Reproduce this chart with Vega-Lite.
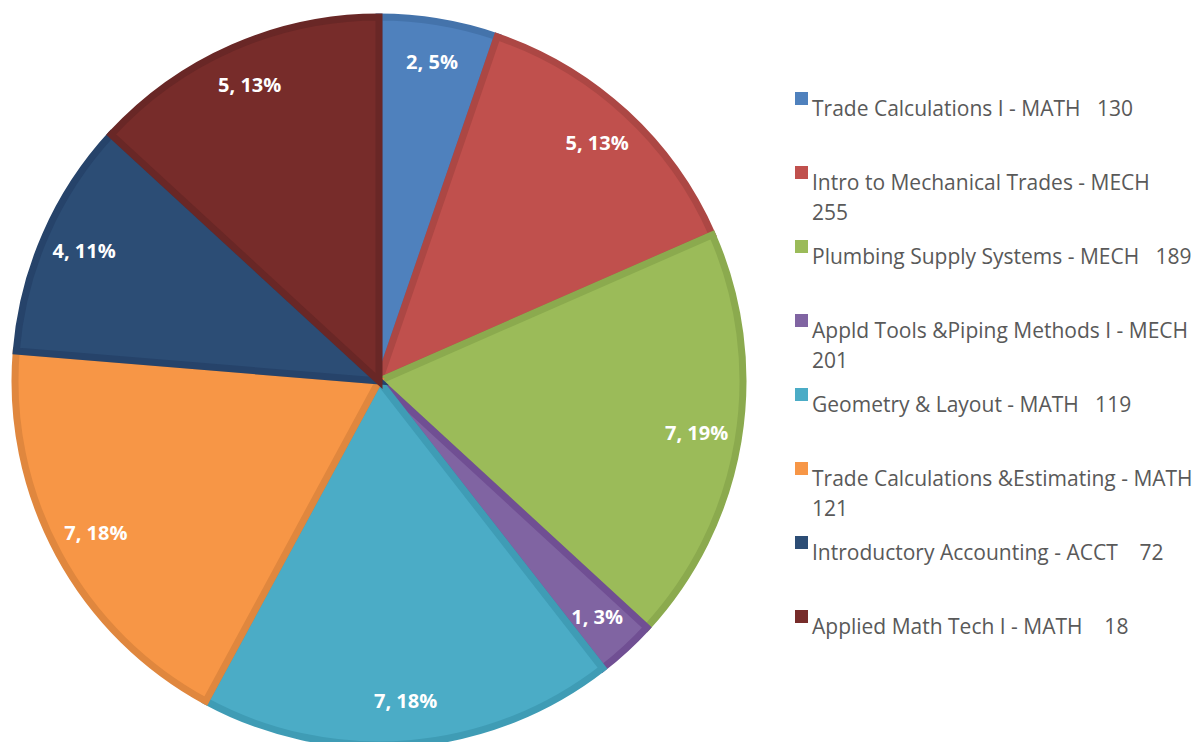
{
  "$schema": "https://vega.github.io/schema/vega-lite/v6.json",
  "width": 1202,
  "height": 742,
  "padding": 0,
  "autosize": {"type": "none"},
  "background": "white",
  "config": {"view": {"stroke": null}, "style": {"guide-label": {"lineHeight": 30}}},
  "data": {
    "values": [
      {"idx": 1, "course": "Trade Calculations I - MATH\u00a0\u00a0\u00a0130", "value": 2, "label": "2, 5%"},
      {"idx": 2, "course": "Intro to Mechanical Trades - MECH|255", "value": 5, "label": "5, 13%"},
      {"idx": 3, "course": "Plumbing Supply Systems - MECH\u00a0\u00a0\u00a0189", "value": 7, "label": "7, 19%"},
      {"idx": 4, "course": "Appld Tools &Piping Methods I - MECH|201", "value": 1, "label": "1, 3%"},
      {"idx": 5, "course": "Geometry & Layout - MATH\u00a0\u00a0\u00a0119", "value": 7, "label": "7, 18%"},
      {"idx": 6, "course": "Trade Calculations &Estimating - MATH|121", "value": 7, "label": "7, 18%"},
      {"idx": 7, "course": "Introductory Accounting - ACCT\u00a0\u00a0\u00a0\u00a072", "value": 4, "label": "4, 11%"},
      {"idx": 8, "course": "Applied Math Tech I - MATH\u00a0\u00a0\u00a0\u00a018", "value": 5, "label": "5, 13%"}
    ]
  },
  "encoding": {
    "theta": {"field": "value", "type": "quantitative", "stack": true},
    "order": {"field": "idx", "type": "quantitative"}
  },
  "layer": [
    {
      "mark": {"type": "arc", "x": 379, "y": 381, "radius": 364, "strokeWidth": 7, "strokeJoin": "miter"},
      "encoding": {
        "color": {
          "field": "course", "type": "nominal",
          "scale": {
            "domain": ["Trade Calculations I - MATH\u00a0\u00a0\u00a0130", "Intro to Mechanical Trades - MECH|255", "Plumbing Supply Systems - MECH\u00a0\u00a0\u00a0189", "Appld Tools &Piping Methods I - MECH|201", "Geometry & Layout - MATH\u00a0\u00a0\u00a0119", "Trade Calculations &Estimating - MATH|121", "Introductory Accounting - ACCT\u00a0\u00a0\u00a0\u00a072", "Applied Math Tech I - MATH\u00a0\u00a0\u00a0\u00a018"],
            "range": ["#4F81BD", "#C0504D", "#9BBB59", "#8064A2", "#4BACC6", "#F79646", "#2C4D75", "#772C2A"]
          },
          "legend": {
            "orient": "none", "legendX": 791, "legendY": 88, "title": null,
            "symbolType": "square", "symbolSize": 170, "symbolStrokeWidth": 0,
            "labelFont": "Open Sans", "labelFontSize": 21, "labelColor": "#595959",
            "labelLimit": 500, "labelOffset": 0, "labelBaseline": "top",
            "gridAlign": "all", "rowPadding": 12,
            "labelExpr": "split(datum.label, '|')"
          }
        },
        "stroke": {
          "field": "course", "type": "nominal",
          "scale": {
            "domain": ["Trade Calculations I - MATH\u00a0\u00a0\u00a0130", "Intro to Mechanical Trades - MECH|255", "Plumbing Supply Systems - MECH\u00a0\u00a0\u00a0189", "Appld Tools &Piping Methods I - MECH|201", "Geometry & Layout - MATH\u00a0\u00a0\u00a0119", "Trade Calculations &Estimating - MATH|121", "Introductory Accounting - ACCT\u00a0\u00a0\u00a0\u00a072", "Applied Math Tech I - MATH\u00a0\u00a0\u00a0\u00a018"],
            "range": ["#4473AB", "#AC4744", "#8BAA4E", "#704F93", "#3F9CB5", "#E0873E", "#26436A", "#692726"]
          },
          "legend": null
        }
      }
    },
    {
      "mark": {"type": "text", "x": 379, "y": 381, "radius": 322, "font": "Open Sans", "fontSize": 20, "fontWeight": "bold", "color": "white"},
      "encoding": {"text": {"field": "label", "type": "nominal"}}
    }
  ]
}
